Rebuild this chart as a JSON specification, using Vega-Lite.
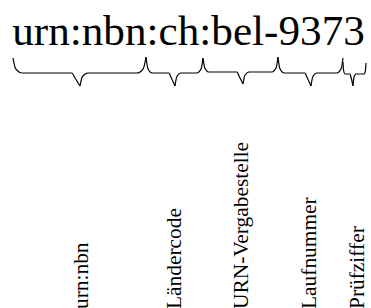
{
  "$schema": "https://vega.github.io/schema/vega-lite/v6.json",
  "width": 371,
  "height": 308,
  "padding": 0,
  "autosize": "none",
  "config": {"view": {"stroke": null}},
  "datasets": {
    "braces": [
      {"piece": "b1L", "o": 1, "x": 13, "y": 58}, {"piece": "b1L", "o": 2, "x": 15.6, "y": 68.6}, {"piece": "b1L", "o": 3, "x": 22, "y": 73}, {"piece": "b1L", "o": 4, "x": 72, "y": 73}, {"piece": "b1L", "o": 5, "x": 74.3, "y": 76.8}, {"piece": "b1L", "o": 6, "x": 80, "y": 86},
      {"piece": "b1R", "o": 1, "x": 80, "y": 86}, {"piece": "b1R", "o": 2, "x": 82.3, "y": 76.8}, {"piece": "b1R", "o": 3, "x": 88, "y": 73}, {"piece": "b1R", "o": 4, "x": 137, "y": 73}, {"piece": "b1R", "o": 5, "x": 143.4, "y": 68.3}, {"piece": "b1R", "o": 6, "x": 146, "y": 57},
      {"piece": "b2L", "o": 1, "x": 146, "y": 57}, {"piece": "b2L", "o": 2, "x": 147.8, "y": 68.3}, {"piece": "b2L", "o": 3, "x": 152, "y": 73}, {"piece": "b2L", "o": 4, "x": 169, "y": 73}, {"piece": "b2L", "o": 5, "x": 170.8, "y": 76.8}, {"piece": "b2L", "o": 6, "x": 175, "y": 86},
      {"piece": "b2R", "o": 1, "x": 175, "y": 86}, {"piece": "b2R", "o": 2, "x": 176.8, "y": 76.8}, {"piece": "b2R", "o": 3, "x": 181, "y": 73}, {"piece": "b2R", "o": 4, "x": 197, "y": 73}, {"piece": "b2R", "o": 5, "x": 201.2, "y": 68.6}, {"piece": "b2R", "o": 6, "x": 203, "y": 58},
      {"piece": "b3L", "o": 1, "x": 203, "y": 58}, {"piece": "b3L", "o": 2, "x": 204.8, "y": 67.9}, {"piece": "b3L", "o": 3, "x": 209, "y": 72}, {"piece": "b3L", "o": 4, "x": 237, "y": 72}, {"piece": "b3L", "o": 5, "x": 238.8, "y": 75.5}, {"piece": "b3L", "o": 6, "x": 243, "y": 84},
      {"piece": "b3R", "o": 1, "x": 243, "y": 84}, {"piece": "b3R", "o": 2, "x": 244.8, "y": 75.5}, {"piece": "b3R", "o": 3, "x": 249, "y": 72}, {"piece": "b3R", "o": 4, "x": 272, "y": 72}, {"piece": "b3R", "o": 5, "x": 276.2, "y": 67.6}, {"piece": "b3R", "o": 6, "x": 278, "y": 57},
      {"piece": "b4L", "o": 1, "x": 278, "y": 57}, {"piece": "b4L", "o": 2, "x": 279.8, "y": 68.3}, {"piece": "b4L", "o": 3, "x": 284, "y": 73}, {"piece": "b4L", "o": 4, "x": 305, "y": 73}, {"piece": "b4L", "o": 5, "x": 306.8, "y": 76.8}, {"piece": "b4L", "o": 6, "x": 311, "y": 86},
      {"piece": "b4R", "o": 1, "x": 311, "y": 86}, {"piece": "b4R", "o": 2, "x": 312.8, "y": 76.8}, {"piece": "b4R", "o": 3, "x": 317, "y": 73}, {"piece": "b4R", "o": 4, "x": 337, "y": 73}, {"piece": "b4R", "o": 5, "x": 341.2, "y": 68.6}, {"piece": "b4R", "o": 6, "x": 343, "y": 58},
      {"piece": "b5L", "o": 1, "x": 343, "y": 62}, {"piece": "b5L", "o": 2, "x": 343.6, "y": 70.5}, {"piece": "b5L", "o": 3, "x": 345, "y": 74}, {"piece": "b5L", "o": 4, "x": 350, "y": 74}, {"piece": "b5L", "o": 5, "x": 351.1, "y": 77.5}, {"piece": "b5L", "o": 6, "x": 353, "y": 86},
      {"piece": "b5R", "o": 1, "x": 353, "y": 86}, {"piece": "b5R", "o": 2, "x": 353.9, "y": 77.5}, {"piece": "b5R", "o": 3, "x": 356, "y": 74}, {"piece": "b5R", "o": 4, "x": 364, "y": 74}, {"piece": "b5R", "o": 5, "x": 365.4, "y": 70.8}, {"piece": "b5R", "o": 6, "x": 366, "y": 63}
    ],
    "title": [
      {"text": "urn:nbn:ch:bel-9373", "x": 188.5, "y": 45}
    ],
    "labels": [
      {"text": "urn:nbn", "x": 82, "y": 309},
      {"text": "Ländercode", "x": 175, "y": 309},
      {"text": "URN-Vergabestelle", "x": 242, "y": 309},
      {"text": "Laufnummer", "x": 310, "y": 309},
      {"text": "Prüfziffer", "x": 358, "y": 309}
    ]
  },
  "encoding": {
    "x": {"field": "x", "type": "quantitative", "scale": {"domain": [0, 371], "nice": false, "zero": false}, "axis": null},
    "y": {"field": "y", "type": "quantitative", "scale": {"domain": [0, 308], "nice": false, "zero": false, "reverse": true}, "axis": null}
  },
  "layer": [
    {
      "data": {"name": "braces"},
      "mark": {"type": "line", "interpolate": "monotone", "color": "#000000", "strokeWidth": 1.2, "clip": false},
      "encoding": {
        "detail": {"field": "piece", "type": "nominal"},
        "order": {"field": "o", "type": "quantitative"}
      }
    },
    {
      "data": {"name": "title"},
      "mark": {"type": "text", "font": "Liberation Serif", "fontSize": 43.2, "align": "center", "baseline": "alphabetic", "color": "#000000"},
      "encoding": {"text": {"field": "text", "type": "nominal"}}
    },
    {
      "data": {"name": "labels"},
      "mark": {"type": "text", "font": "Liberation Serif", "fontSize": 21.4, "angle": 270, "align": "left", "baseline": "middle", "color": "#000000"},
      "encoding": {"text": {"field": "text", "type": "nominal"}}
    }
  ]
}
